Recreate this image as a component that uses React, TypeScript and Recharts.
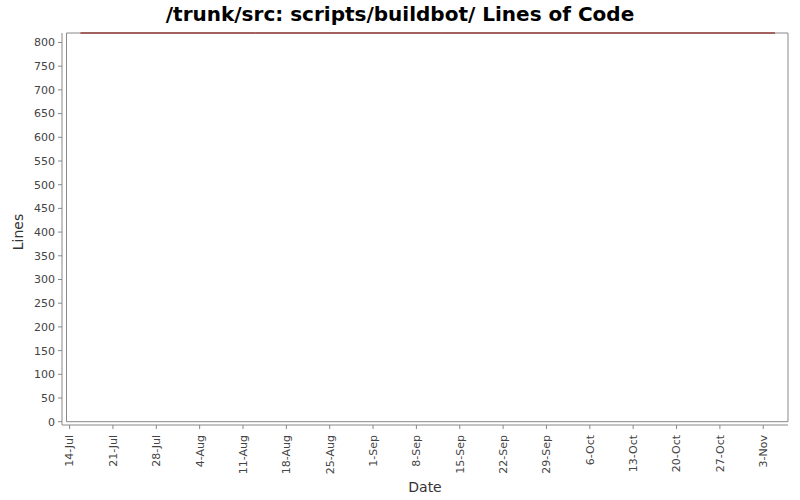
import React from 'react';
import { LineChart, Line, XAxis, YAxis, ReferenceArea } from 'recharts';

// days counted from 14-Jul
const weekTicks = [0, 7, 14, 21, 28, 35, 42, 49, 56, 63, 70, 77, 84, 91, 98, 105, 112];
const weekLabels = ['14-Jul', '21-Jul', '28-Jul', '4-Aug', '11-Aug', '18-Aug', '25-Aug', '1-Sep', '8-Sep', '15-Sep', '22-Sep', '29-Sep', '6-Oct', '13-Oct', '20-Oct', '27-Oct', '3-Nov'];
const yTicks = [0, 50, 100, 150, 200, 250, 300, 350, 400, 450, 500, 550, 600, 650, 700, 750, 800];

const commitDays = [1.75, 30, 60, 90, 113.9];
const linesOfCode = [820, 820, 820, 820, 820];

const xMin = -0.5;
const xMax = 116;
const yMax = 820;

const data = commitDays.map((d, i) => ({ day: d, lines: linesOfCode[i] }));

const FONT = '"DejaVu Sans", sans-serif';

const DateTick = (props: any) => {
  const { x, y, payload } = props;
  const idx = weekTicks.indexOf(payload.value);
  return (
    <g transform={`translate(${x},${y})`}>
      <text transform="rotate(-90)" textAnchor="end" dy="0.35em" fontSize={11} fill="#444" fontFamily={FONT}>
        {weekLabels[idx]}
      </text>
    </g>
  );
};

export default function App() {
  return (
    <div style={{ position: 'absolute', left: 0, top: 0, width: 800, height: 500, background: '#fff' }}>
      <LineChart width={800} height={500} data={data} margin={{ top: 33, right: 12, left: 0, bottom: 0 }}>
        <text x={400} y={21} textAnchor="middle" fontSize={20} fontWeight="bold" fontFamily={FONT} fill="#000">
          /trunk/src: scripts/buildbot/ Lines of Code
        </text>
        <text x={23} y={232} transform="rotate(-90, 23, 232)" textAnchor="middle" fontSize={14} fill="#333" fontFamily={FONT}>
          Lines
        </text>
        <XAxis
          dataKey="day"
          type="number"
          domain={[xMin, xMax]}
          ticks={weekTicks}
          interval={0}
          height={75}
          padding={{ left: 4.5, right: 0 }}
          tick={<DateTick />}
          tickSize={4}
          tickMargin={6}
          stroke="#888"
          tickLine={{ stroke: '#888' }}
          axisLine={{ stroke: '#888' }}
          label={{ value: 'Date', position: 'insideBottom', offset: 8, fontSize: 14, fill: '#333', fontFamily: FONT }}
        />
        <YAxis
          type="number"
          domain={[0, yMax]}
          ticks={yTicks}
          interval={0}
          width={62}
          padding={{ top: 0, bottom: 3.3 }}
          tickSize={4}
          tickMargin={3}
          tick={{ fontSize: 11, fill: '#444', fontFamily: FONT }}
          tickLine={{ stroke: '#888' }}
          axisLine={{ stroke: '#888' }}
        />
        <ReferenceArea x1={xMin} x2={xMax} y1={0} y2={yMax} fill="none" stroke="#888" strokeWidth={1} ifOverflow="visible" />
        <Line
          type="linear"
          dataKey="lines"
          stroke="#800000"
          strokeWidth={1}
          dot={false}
          isAnimationActive={false}
        />
      </LineChart>
    </div>
  );
}
